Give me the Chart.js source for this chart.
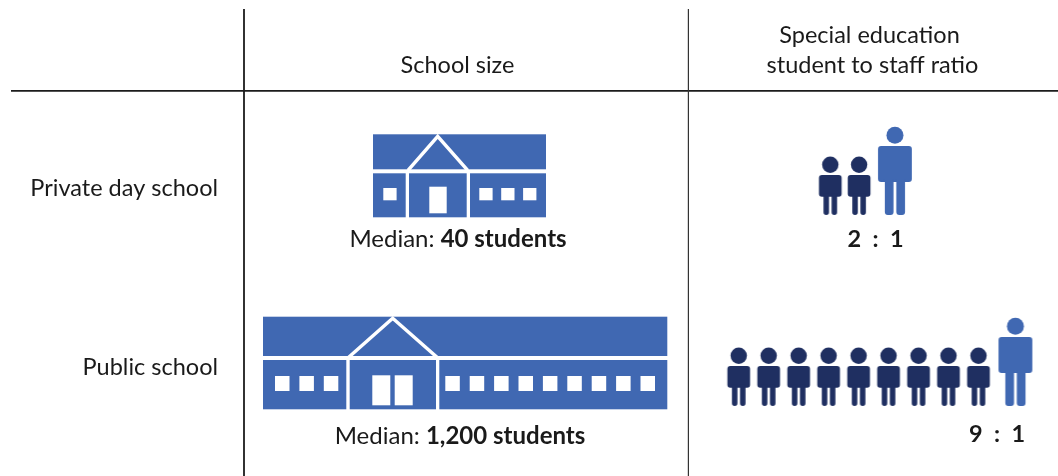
<!DOCTYPE html>
<html>
<head>
<meta charset="utf-8">
<title>School size and staffing</title>
<style>
    html, body { margin: 0; padding: 0; background: #fff; }
    canvas { display: block; }
</style>
<script src="https://cdn.jsdelivr.net/npm/chart.js@4/dist/chart.umd.min.js"></script>
</head>
<body>
<canvas id="schoolChart" width="1058" height="476"></canvas>
<script>
const schoolTypes = ['Private day school', 'Public school'];
const medianStudents = [40, 1200];
const studentsPerStaff = [2, 9];
const staffPerGroup = [1, 1];
const leftWingWindows = [1, 3];
const rightWingWindows = [3, 9];
const schoolDoors = [1, 2];

const WIDTH = 1058;
const HEIGHT = 476;
const BLUE = '#4068b2';
const NAVY = '#1f2f61';
const INK = '#1a1a1a';
const FONT = 'Lato, Carlito, "Open Sans", sans-serif';
const TEXT_SIZE = 23.5;
const MEDIAN_SIZE = 24;

// min/max so that value 0 lands on pxAtZero and one unit spans pxPerUnit
function pixelAxis(axis, pxAtZero, pxPerUnit, size) {
    return {
        type: 'linear',
        axis: axis,
        display: false,
        bounds: 'data',
        reverse: axis === 'y',
        min: -pxAtZero / pxPerUnit,
        max: (size - pxAtZero) / pxPerUnit,
    };
}

function newSprite(halfW, halfH) {
    const canvas = document.createElement('canvas');
    canvas.width = halfW * 2;
    canvas.height = halfH * 2;
    const ctx = canvas.getContext('2d');
    ctx.translate(halfW, halfH);
    return { canvas, ctx };
}

// sprites are anchored on the feet so both figures share a ground line
function personSprite(color, shape) {
    const { canvas, ctx } = newSprite(30, 96);
    ctx.translate(shape.dx, 0);
    ctx.fillStyle = color;

    ctx.beginPath();
    ctx.arc(0, shape.headY, shape.headR, 0, Math.PI * 2);
    ctx.fill();

    ctx.beginPath();
    ctx.roundRect(-shape.bodyW / 2, shape.bodyTop, shape.bodyW, shape.bodyBottom - shape.bodyTop, 3);
    ctx.fill();

    const legW = (shape.legsW - shape.legGap) / 2;
    ctx.beginPath();
    ctx.roundRect(-shape.legsW / 2, shape.bodyBottom - 3, legW, 3 - shape.bodyBottom, [0, 0, 3, 3]);
    ctx.roundRect(shape.legGap / 2, shape.bodyBottom - 3, legW, 3 - shape.bodyBottom, [0, 0, 3, 3]);
    ctx.fill();
    return canvas;
}

function schoolSprite(shape, leftWindows, rightWindows, doors) {
    const { canvas, ctx } = newSprite(230, 100);
    ctx.translate(shape.dx, shape.dy);
    ctx.fillStyle = BLUE;
    ctx.fillRect(0, shape.roofTop, shape.width, shape.roofBottom - shape.roofTop);
    ctx.fillRect(0, shape.wallTop, shape.leftEnd, -shape.wallTop);
    ctx.fillRect(shape.midStart, shape.wallTop, shape.midEnd - shape.midStart, -shape.wallTop);
    ctx.fillRect(shape.rightStart, shape.wallTop, shape.width - shape.rightStart, -shape.wallTop);

    ctx.strokeStyle = '#fff';
    ctx.lineWidth = 3.5;
    ctx.beginPath();
    ctx.moveTo(shape.midStart - 1, shape.gableBase);
    ctx.lineTo(shape.apexX, shape.apexY);
    ctx.lineTo(shape.midEnd + 1, shape.gableBase);
    ctx.stroke();

    ctx.fillStyle = '#fff';
    for (let i = 0; i < leftWindows; i++) {
        ctx.fillRect(shape.leftWindowX + i * shape.windowPitch, shape.windowY, shape.windowW, shape.windowH);
    }
    for (let i = 0; i < rightWindows; i++) {
        ctx.fillRect(shape.rightWindowX + i * shape.windowPitch, shape.windowY, shape.windowW, shape.windowH);
    }
    for (let i = 0; i < doors; i++) {
        ctx.fillRect(shape.doorX + i * shape.doorPitch, shape.doorY, shape.doorW, -4 - shape.doorY);
    }
    return canvas;
}

const studentShape = { dx: 0, headY: -50.3, headR: 8.2, bodyW: 22.7, bodyTop: -40, bodyBottom: -18.3, legsW: 13.6, legGap: 2.6 };
const staffShape = { dx: 7, headY: -79.7, headR: 8.5, bodyW: 33.8, bodyTop: -69, bodyBottom: -33, legsW: 20.2, legGap: 2.8 };

const schoolShapes = [
    {
        dx: -92, dy: 2.3, width: 173, roofTop: -83, roofBottom: -48, wallTop: -44,
        leftEnd: 32.7, midStart: 36, midEnd: 93.7, rightStart: 97,
        apexX: 64.7, apexY: -81, gableBase: -47,
        windowY: -29.3, windowW: 13.3, windowH: 12.3, windowPitch: 21.9, leftWindowX: 10.3, rightWindowX: 106.3,
        doorX: 56.3, doorPitch: 0, doorW: 17.4, doorY: -30.6,
    },
    {
        dx: -202, dy: 3.3, width: 404.3, roofTop: -92.6, roofBottom: -53.3, wallTop: -49.3,
        leftEnd: 83.3, midStart: 86.7, midEnd: 173, rightStart: 176.3,
        apexX: 129.7, apexY: -91, gableBase: -52,
        windowY: -33.3, windowW: 14.5, windowH: 15, windowPitch: 24.4, leftWindowX: 12, rightWindowX: 182.3,
        doorX: 109.3, doorPitch: 22.4, doorW: 18, doorY: -34,
    },
];

const studentIcon = personSprite(NAVY, studentShape);
const staffIcon = personSprite(BLUE, staffShape);
const schoolIcons = schoolTypes.map((_, i) =>
    schoolSprite(schoolShapes[i], leftWingWindows[i], rightWingWindows[i], schoolDoors[i]));

const datasets = [{
    label: 'School size',
    xAxisID: 'xColumn',
    yAxisID: 'yRow',
    data: schoolTypes.map((_, i) => ({ x: 0, y: i })),
    pointStyle: schoolIcons,
}];

schoolTypes.forEach((type, i) => {
    const students = studentsPerStaff[i];
    const slots = Array.from({ length: students }, (_, k) => ({ x: k, y: i }));
    datasets.push({
        label: type + ' students',
        xAxisID: 'xPeople' + i,
        yAxisID: 'yRow',
        data: slots,
        pointStyle: studentIcon,
    });
    datasets.push({
        label: type + ' staff',
        xAxisID: 'xPeople' + i,
        yAxisID: 'yRow',
        data: Array.from({ length: staffPerGroup[i] }, (_, k) => ({ x: students + k, y: i })),
        pointStyle: staffIcon,
    });
});

// table rules and every text block
const tablePlugin = {
    id: 'tablePlugin',
    afterDraw(chart) {
        const ctx = chart.ctx;
        ctx.save();

        ctx.strokeStyle = '#1c1c1c';
        ctx.lineWidth = 1.8;
        ctx.beginPath();
        ctx.moveTo(11, 90.8);
        ctx.lineTo(WIDTH, 90.8);
        ctx.moveTo(244, 9);
        ctx.lineTo(244, HEIGHT);
        ctx.stroke();
        ctx.strokeStyle = '#333';
        ctx.lineWidth = 1.2;
        ctx.beginPath();
        ctx.moveTo(688.4, 9);
        ctx.lineTo(688.4, HEIGHT);
        ctx.stroke();

        ctx.fillStyle = INK;
        ctx.textBaseline = 'middle';
        ctx.font = TEXT_SIZE + 'px ' + FONT;

        ctx.textAlign = 'center';
        ctx.fillText('School size', 457.5, 65);
        ctx.fillText('Special education', 869.5, 35);
        ctx.fillText('student to staff ratio', 872.5, 65);

        ctx.textAlign = 'right';
        ctx.fillText(schoolTypes[0], 218, 188);
        ctx.fillText(schoolTypes[1], 218, 367);

        const medianY = [239, 436];
        const medianX = [458, 460];
        const ratioX = [875.5, 997];
        const ratioY = [239.5, 434];
        schoolTypes.forEach((_, i) => {
            const plain = 'Median: ';
            const bold = medianStudents[i].toLocaleString('en-US') + ' students';
            ctx.textAlign = 'left';
            ctx.font = MEDIAN_SIZE + 'px ' + FONT;
            const plainW = ctx.measureText(plain).width;
            ctx.font = 'bold ' + MEDIAN_SIZE + 'px ' + FONT;
            const boldW = ctx.measureText(bold).width;
            const startX = medianX[i] - (plainW + boldW) / 2;
            ctx.fillText(bold, startX + plainW, medianY[i]);
            ctx.font = MEDIAN_SIZE + 'px ' + FONT;
            ctx.fillText(plain, startX, medianY[i]);

            ctx.textAlign = 'center';
            ctx.font = 'bold ' + TEXT_SIZE + 'px ' + FONT;
            ctx.fillText(studentsPerStaff[i] + '  :  ' + staffPerGroup[i], ratioX[i], ratioY[i]);
        });

        ctx.restore();
    },
};

document.addEventListener('DOMContentLoaded', function () {
    new Chart(document.getElementById('schoolChart'), {
        type: 'scatter',
        data: { datasets: datasets },
        options: {
            responsive: false,
            animation: false,
            events: [],
            // the axes are pixel-true, so no room is reserved for the points
            layout: { autoPadding: false, padding: 0 },
            plugins: {
                legend: { display: false },
                tooltip: { enabled: false },
            },
            elements: { point: { radius: 3 } },
            scales: {
                xColumn: pixelAxis('x', 465, 408, WIDTH),
                xPeople0: pixelAxis('x', 830.3, 28.8, WIDTH),
                xPeople1: pixelAxis('x', 738.7, 29.97, WIDTH),
                yRow: pixelAxis('y', 215, 191, HEIGHT),
            },
        },
        plugins: [tablePlugin],
    });
});
</script>
</body>
</html>
